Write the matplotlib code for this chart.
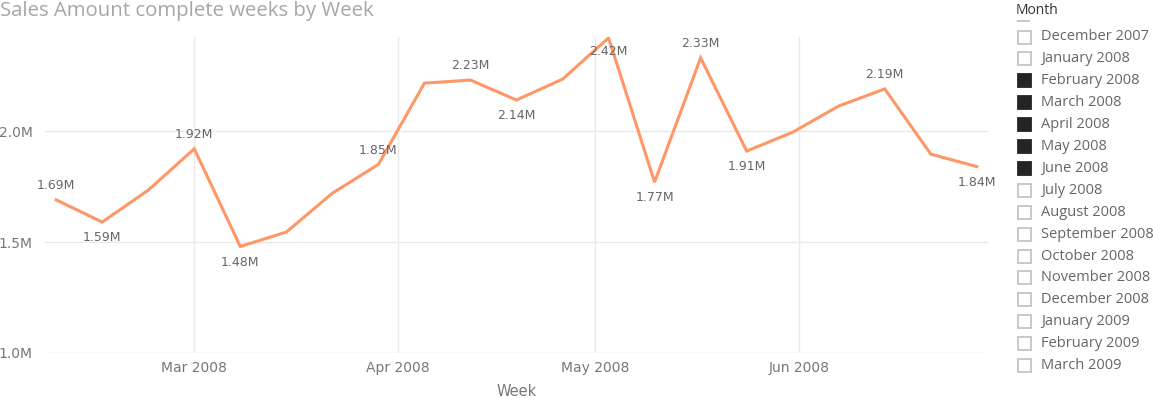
import matplotlib
matplotlib.use("Agg")
import matplotlib.pyplot as plt
import matplotlib.dates as mdates
from matplotlib.patches import Rectangle
import datetime as dt

# ---- data ----
weeks = ["2008-02-09", "2008-02-16", "2008-02-23", "2008-03-01", "2008-03-08",
         "2008-03-15", "2008-03-22", "2008-03-29", "2008-04-05", "2008-04-12",
         "2008-04-19", "2008-04-26", "2008-05-03", "2008-05-10", "2008-05-17",
         "2008-05-24", "2008-05-31", "2008-06-07", "2008-06-14", "2008-06-21",
         "2008-06-28"]
sales = [1.69, 1.59, 1.734, 1.92, 1.48, 1.545, 1.72, 1.85, 2.216, 2.23,
         2.14, 2.234, 2.42, 1.77, 2.33, 1.91, 1.995, 2.113, 2.19, 1.896, 1.84]
labeled = [0, 1, 3, 4, 7, 9, 10, 12, 13, 14, 15, 18, 20]
label_pos = ["above", "below", "above", "below", "above", "above", "below",
             "center", "below", "above", "below", "above", "below"]
months = ["December 2007", "January 2008", "February 2008", "March 2008",
          "April 2008", "May 2008", "June 2008", "July 2008", "August 2008",
          "September 2008", "October 2008", "November 2008", "December 2008",
          "January 2009", "February 2009", "March 2009"]
selected = ["February 2008", "March 2008", "April 2008", "May 2008", "June 2008"]

W, H = 1153, 398
fig = plt.figure(figsize=(W / 100, H / 100), dpi=100)
ax = fig.add_axes([45 / W, 1 - 353 / H, (988 - 45) / W, (353 - 37) / H])

dates = [dt.datetime.strptime(d, "%Y-%m-%d") for d in weeks]
xs = mdates.date2num(dates)
ax.plot(dates, sales, color="#FE9666", lw=2.2, solid_joinstyle="miter", zorder=3)

pad = 1.7
ax.set_xlim(xs[0] - pad, xs[-1] + pad)
ax.set_ylim(1.0, 2.424)
ax.set_yticks([1.0, 1.5, 2.0])
ax.set_yticklabels(["1.0M", "1.5M", "2.0M"])
ax.xaxis.set_major_locator(mdates.MonthLocator())
ax.xaxis.set_major_formatter(mdates.DateFormatter("%b %Y"))

for s in ax.spines.values():
    s.set_visible(False)
ax.grid(True, color="#e9e9e9", lw=1)
ax.set_axisbelow(True)
ax.tick_params(length=0, colors="#777777", labelsize=10)
ax.tick_params(axis="y", pad=9)
ax.tick_params(axis="x", pad=6)
ax.set_xlabel("Week", color="#777777", fontsize=10.5, labelpad=6)

lab_font = dict(fontsize=9, color="#666666", family="DejaVu Sans")
for i, pos in zip(labeled, label_pos):
    txt = f"{sales[i]:.2f}M"
    if pos == "above":
        ax.annotate(txt, (dates[i], sales[i]), xytext=(0, 5.5), textcoords="offset points",
                    ha="center", va="bottom", **lab_font)
    elif pos == "below":
        ax.annotate(txt, (dates[i], sales[i]), xytext=(0, -6.5), textcoords="offset points",
                    ha="center", va="top", **lab_font)
    else:
        ax.annotate(txt, (dates[i], sales[i]), xytext=(0, -5), textcoords="offset points",
                    ha="center", va="top", **lab_font)

fig.text(0, 1 - 11 / H, "Sales Amount complete weeks by Week", fontsize=14.7,
         color="#a6a6a6", ha="left", va="center", family="Open Sans")

# slicer legend
fig.text(1016 / W, 1 - 10 / H, "Month", fontsize=10, color="#333333",
         ha="left", va="center", family="Open Sans")
fig.add_artist(Rectangle((1017 / W, 1 - 22 / H), 13 / W, 2 / H,
                         transform=fig.transFigure, facecolor="#c8c8c8", edgecolor="none"))
y0, dy = 37, 21.9
for k, m in enumerate(months):
    yc = y0 + k * dy
    sel = m in selected
    fig.add_artist(Rectangle((1017.5 / W, 1 - (yc + 6.5) / H), 13 / W, 13 / H,
                             transform=fig.transFigure,
                             facecolor="#252423" if sel else "white",
                             edgecolor="#252423" if sel else "#c4c4c4", lw=1.3))
    fig.text(1041 / W, 1 - yc / H, m, fontsize=10.5, color="#666666",
             ha="left", va="center", family="Open Sans")

fig.savefig("out.png", dpi=100, facecolor="white")
